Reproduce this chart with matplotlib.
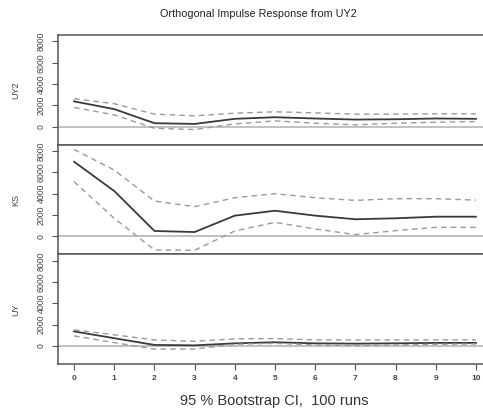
import numpy as np
import matplotlib
matplotlib.use('Agg')
import matplotlib.pyplot as plt

plt.rcParams['font.family'] = ['Liberation Sans', 'DejaVu Sans']

# horizon steps
steps = list(range(11))
panel_names = ['UY2', 'KS', 'UY']

# impulse responses (orthogonal irf, shock in UY2)
uy2_irf = [2370, 1640, 320, 250, 730, 880, 760, 660, 690, 760, 730]
uy2_upper = [2620, 2150, 1170, 1010, 1260, 1390, 1290, 1170, 1170, 1200, 1200]
uy2_lower = [1800, 1100, -160, -280, 250, 540, 320, 160, 320, 410, 470]

ks_irf = [7000, 4250, 500, 400, 1940, 2400, 1940, 1600, 1690, 1840, 1840]
ks_upper = [8150, 6220, 3310, 2780, 3620, 4000, 3620, 3375, 3530, 3530, 3400]
ks_lower = [5120, 1690, -1280, -1310, 500, 1310, 690, 160, 530, 840, 840]

uy_irf = [1370, 730, 100, 60, 250, 350, 250, 220, 250, 290, 290]
uy_upper = [1520, 1050, 570, 440, 670, 700, 570, 570, 570, 570, 570]
uy_lower = [950, 320, -290, -290, 160, 250, 100, 30, 100, 160, 190]

irfs = [uy2_irf, ks_irf, uy_irf]
uppers = [uy2_upper, ks_upper, uy_upper]
lowers = [uy2_lower, ks_lower, uy_lower]
yticks = [0, 2000, 4000, 6000, 8000]

fig = plt.figure(figsize=(4.83, 4.08), dpi=100)
left, width = 58 / 483, 434 / 483
top_px, h_px = 35, 109.7

for i in range(3):
    bottom = 1 - (top_px + (i + 1) * h_px) / 408
    ax = fig.add_axes([left, bottom, width, h_px / 408])
    ax.axhline(0, color='#b0b0b0', lw=1.1)
    ax.plot(steps, irfs[i], color='#3a3a3a', lw=1.3)
    ax.plot(steps, uppers[i], color='#9a9a9a', lw=1.0, ls=(0, (4, 3)))
    ax.plot(steps, lowers[i], color='#9a9a9a', lw=1.0, ls=(0, (4, 3)))
    ax.set_xlim(-0.4, 10.4)
    ax.set_ylim(-1700, 8600)
    ax.set_yticks(yticks)
    ax.set_yticklabels([str(v) for v in yticks], rotation=90, va='center',
                       fontsize=6.3, color='#444444')
    ax.tick_params(axis='y', length=4, width=0.8, color='#555555', pad=5)
    ax.set_ylabel(panel_names[i], fontsize=6.5, color='#444444', labelpad=12)
    for sp in ax.spines.values():
        sp.set_color('#555555')
        sp.set_linewidth(1.1)
    if i < 2:
        ax.set_xticks([])
    else:
        ax.set_xticks(steps)
        ax.set_xticklabels([str(s) for s in steps], fontsize=6,
                           fontweight='bold', color='#444444')
        ax.tick_params(axis='x', length=4, width=0.8, color='#555555', pad=4)

fig.text(258 / 483, 1 - 14 / 408, 'Orthogonal Impulse Response from UY2',
         ha='center', va='center', fontsize=7.8, color='#222222')
fig.text(274 / 483, 1 - 401 / 408, '95 % Bootstrap CI,  100 runs',
         ha='center', va='center', fontsize=10.5, color='#333333')

fig.savefig('out.png', dpi=100)
